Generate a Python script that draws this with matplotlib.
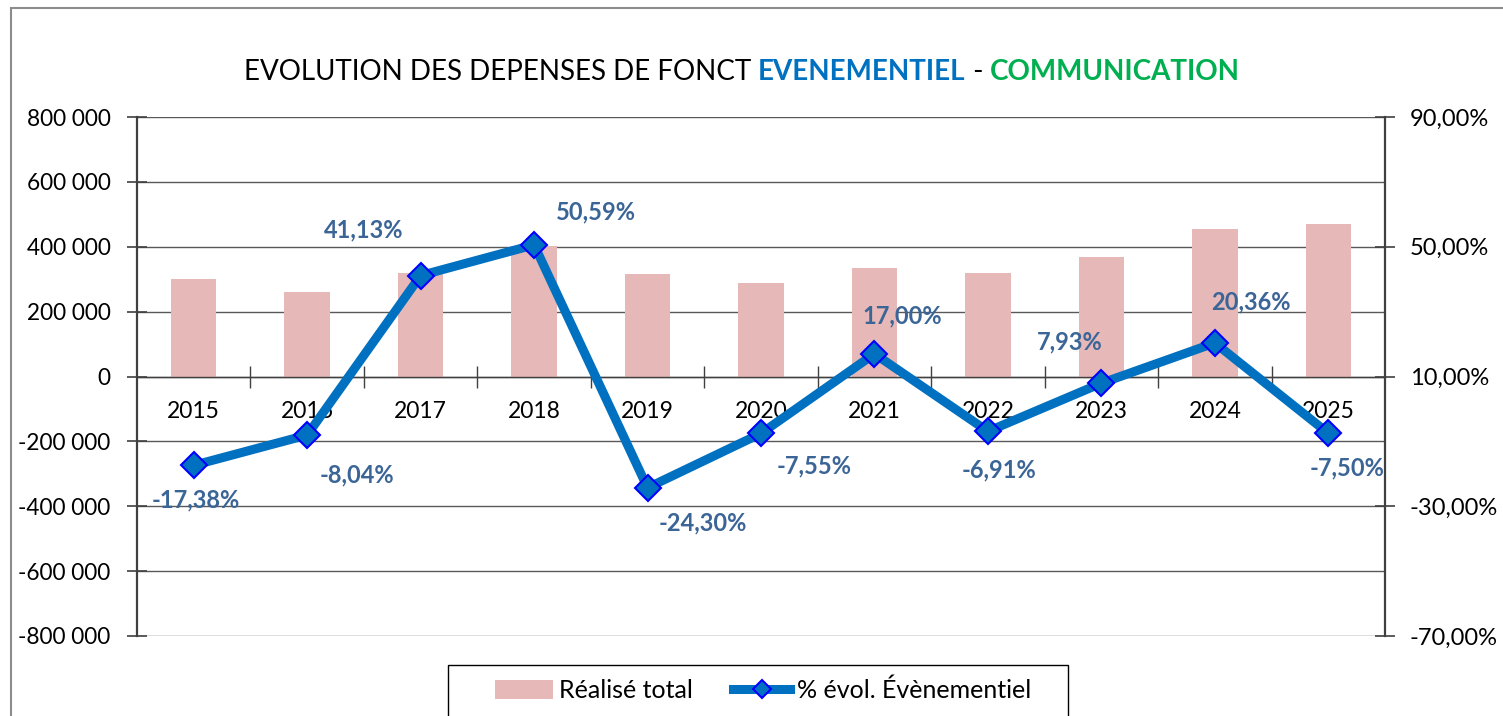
import matplotlib.pyplot as plt
import numpy as np
from matplotlib.offsetbox import TextArea, HPacker, AnchoredOffsetbox
from matplotlib.patches import Rectangle
from matplotlib.ticker import FuncFormatter, FixedLocator

plt.rcParams['font.family'] = ['Lato', 'DejaVu Sans']

# data
annees = ['2015', '2016', '2017', '2018', '2019', '2020', '2021', '2022', '2023', '2024', '2025']
realise_total = [300000, 259000, 320000, 401000, 315000, 287000, 333000, 318000, 369000, 454000, 470000]
evol_pct = [-17.38, -8.04, 41.13, 50.59, -24.30, -7.55, 17.00, -6.91, 7.93, 20.36, -7.50]

# label offsets (pixels) relative to each point
lab_dx = [2, 50, -57, 62, 55, 53, 28, 11, -32, 36, 19]
lab_dy = [-35, -40, 46, 33, -35, -32, 38, -39, 41, 41, -35]

W, H = 1503, 716
fig = plt.figure(figsize=(W / 100, H / 100), dpi=100)
ax = fig.add_axes([137 / W, (H - 636) / H, (1385 - 137) / W, (636 - 117) / H])

x = np.arange(len(annees))
bar_col = '#E6B8B7'
line_col = '#0070C0'
lab_col = '#3B6597'
grid_col = '#595959'

ax.bar(x, realise_total, width=0.4, color=bar_col, label='Réalisé total', zorder=2)
ax.set_xlim(-0.5, len(annees) - 0.5)
ax.set_ylim(-800000, 800000)
ax.set_yticks(np.arange(-800000, 800001, 200000))
ax.yaxis.set_major_formatter(FuncFormatter(lambda v, p: '{:,.0f}'.format(v).replace(',', ' ')))
ax.grid(axis='y', color=grid_col, lw=1.0, zorder=0)
ax.set_axisbelow(True)

ax.spines['top'].set_visible(False)
ax.spines['right'].set_visible(False)
ax.spines['left'].set_color('#404040')
ax.spines['left'].set_linewidth(1.6)
ax.spines['bottom'].set_position(('data', 0))
ax.spines['bottom'].set_color('#404040')
ax.spines['bottom'].set_linewidth(1.0)

ax.set_xticks(x)
ax.set_xticklabels(annees)
ax.xaxis.set_minor_locator(FixedLocator(np.arange(0.5, len(annees) - 1, 1.0)))
ax.tick_params(axis='x', which='major', length=0, pad=18, labelsize=16.5)
ax.tick_params(axis='x', which='minor', direction='inout', length=16, width=1, color='#404040')
ax.tick_params(axis='y', direction='inout', length=14, width=1.2, color='#404040',
               labelsize=16.3, pad=12)

ax2 = ax.twinx()
ax2.set_ylim(-70, 90)
ax2.set_yticks([-70, -30, 10, 50, 90])
ax2.yaxis.set_major_formatter(FuncFormatter(lambda v, p: '{:.2f}%'.format(v).replace('.', ',')))
for s in ['top', 'left', 'bottom']:
    ax2.spines[s].set_visible(False)
ax2.spines['right'].set_color('#404040')
ax2.spines['right'].set_linewidth(1.6)
ax2.tick_params(axis='y', direction='inout', length=14, width=1.2, color='#404040',
                labelsize=17, pad=11)

ax2.plot(x, evol_pct, color=line_col, lw=6.5, marker='D', ms=13.5,
         mfc=line_col, mec='#0000FF', mew=1.5, label='% évol. Évènementiel',
         solid_joinstyle='miter', zorder=3)

for xi, v, dx, dy in zip(x, evol_pct, lab_dx, lab_dy):
    ax2.annotate('{:.2f}%'.format(v).replace('.', ','), (xi, v), xytext=(dx, dy),
                 textcoords='offset pixels', ha='center', va='center',
                 fontsize=17, fontweight='bold', color=lab_col, zorder=4)

# title with coloured words
fs_t = 20
parts = [
    TextArea('EVOLUTION DES DEPENSES DE FONCT ', textprops=dict(fontsize=fs_t, color='black')),
    TextArea('EVENEMENTIEL', textprops=dict(fontsize=fs_t, color='#0070C0', fontweight='bold')),
    TextArea(' - ', textprops=dict(fontsize=fs_t, color='black')),
    TextArea('COMMUNICATION', textprops=dict(fontsize=fs_t, color='#00B050', fontweight='bold')),
]
title_box = HPacker(children=parts, align='baseline', pad=0, sep=0)
anch = AnchoredOffsetbox(loc='center', child=title_box, frameon=False,
                         bbox_to_anchor=(742 / W, 1 - 72 / H),
                         bbox_transform=fig.transFigure, borderpad=0)
fig.add_artist(anch)

# legend (frame drawn separately, it runs off the bottom edge)
h1, l1 = ax.get_legend_handles_labels()
h2, l2 = ax2.get_legend_handles_labels()
leg = fig.legend(h1 + h2, l1 + l2, loc='center', bbox_to_anchor=(763 / W, 1 - 690 / H),
                 ncol=2, fontsize=18, frameon=False, handlelength=2.3, handleheight=0.8,
                 columnspacing=1.6, borderaxespad=0, handletextpad=0.25, markerscale=0.65)
fig.add_artist(Rectangle((448 / W, -0.05), (1068 - 448) / W, 0.05 + (H - 665) / H,
                         transform=fig.transFigure, fill=False, edgecolor='black', lw=1.0))

# outer chart border
fig.add_artist(Rectangle((11 / W, -0.02), 1.05, 1 - 8 / H + 0.02, transform=fig.transFigure,
                         fill=False, edgecolor='#8C8C8C', lw=1.5))

fig.savefig('out.png', dpi=100)
